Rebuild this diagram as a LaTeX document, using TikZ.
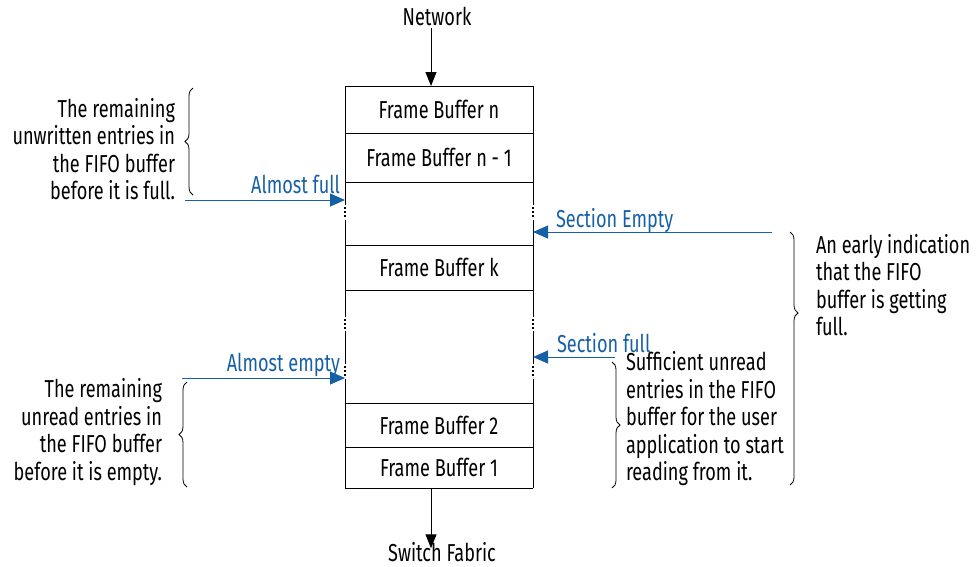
\documentclass[tikz,border=0pt]{standalone}
\usepackage{fontspec}
\setmainfont{Fira Sans}[FakeStretch=0.74]
\usetikzlibrary{arrows.meta,decorations.pathreplacing}
\definecolor{sigblue}{RGB}{22,96,166}
\begin{document}
\begin{tikzpicture}[x=1pt,y=-1pt,
  every node/.style={inner sep=0pt,outer sep=0pt,font=\fontsize{24.5}{27.5}\selectfont},
  row/.style={minimum width=188pt,anchor=north west},
  edge/.style={line width=1pt,black},
  dotmark/.style={fill=black,draw=none},
  flow/.style={line width=1pt,-{Triangle[length=14pt,width=11pt]}},
  sig/.style={line width=1pt,sigblue,-{Triangle[length=15pt,width=13pt]}},
  siglabel/.style={text=sigblue},
  brc/.style={decorate,decoration={brace,amplitude=8pt},line width=0.8pt},
  note/.style={align=left,anchor=west},
  rnote/.style={align=right,anchor=east}]
\useasboundingbox (0,0) rectangle (976,566);
% rows of the FIFO
\node[row,minimum height=47pt] (fbn) at (345,86) {Frame Buffer n};
\node[row,minimum height=49pt] (fbn1) at (345,133) {Frame Buffer n - 1};
\node[row,minimum height=63pt] (gap1) at (345,182) {};
\node[row,minimum height=45pt] (fbk) at (345,245) {Frame Buffer k};
\node[row,minimum height=113pt] (gap2) at (345,290) {};
\node[row,minimum height=44pt] (fb2) at (345,403) {Frame Buffer 2};
\node[row,minimum height=41pt] (fb1) at (345,447) {Frame Buffer 1};
% horizontal lines
\foreach \r in {fbn,fbn1,gap1,fbk,gap2,fb2,fb1}{
  \draw[edge] (\r.north west) -- (\r.north east);
}
\draw[edge] (fb1.south west) -- (fb1.south east);
% vertical sides with dotted breaks
\foreach \s in {west,east}{
  \draw[edge] (fbn.north \s) -- (fbn.north \s |- 0,205);
  \draw[edge] (fbn.north \s |- 0,220) -- (fbn.north \s |- 0,317);
  \draw[edge] (fbn.north \s |- 0,331) -- (fbn.north \s |- 0,364);
  \draw[edge] (fbn.north \s |- 0,379) -- (fb1.south \s);
  \foreach \y in {207,211,215,319,323,327,366,370,374}{
    \fill[dotmark] ([xshift=-1.1pt]fbn.north \s |- 0,\y) rectangle ([xshift=1.1pt,yshift=-2.2pt]fbn.north \s |- 0,\y);
  }
}
% network / switch fabric
\node (net) at (437,16) {Network};
\node (sw) at (442,552) {Switch Fabric};
\coordinate (inpt) at (431,86);
\coordinate (outpt) at (431,488);
\draw[flow] (net.south -| inpt) ++(0,3) -- (inpt);
\draw[flow] (outpt) -- ([yshift=-6pt]sw.north -| outpt);
% blue signals
\coordinate (afL) at (185,200);
\coordinate (afR) at (345,200);
\draw[sig] (afL) -- (afR);
\node[siglabel,anchor=base east] (af) at (340,193) {Almost full};
\coordinate (aeL) at (182,378);
\coordinate (aeR) at (345,378);
\draw[sig] (aeL) -- (aeR);
\node[siglabel,anchor=base east] (ae) at (340,371) {Almost empty};
\coordinate (seR) at (772,232);
\coordinate (seL) at (533,232);
\draw[sig] (seR) -- (seL);
\node[siglabel,anchor=base west] (se) at (556,227) {Section Empty};
\coordinate (sfR) at (615,357);
\coordinate (sfL) at (533,357);
\draw[sig] (sfR) -- (sfL);
\node[siglabel,anchor=base west] (sf) at (557,352) {Section full};
% braces
\draw[brc] (193,195) -- (193,88);
\draw[brc] (187,487) -- (187,382);
\draw[brc,decoration={aspect=0.32}] (790,232) -- (790,485);
\draw[brc] (612,362) -- (612,488);
% notes
\node[rnote] (n1) at (175,149) {The remaining\\unwritten entries in\\the FIFO buffer\\before it is full.};
\node[rnote] (n2) at (162,432) {The remaining\\unread entries in\\the FIFO buffer\\before it is empty.};
\node[note] (n3) at (816,285) {An early indication\\that the FIFO\\buffer is getting\\full.};
\node[note] (n4) at (626,419) {Sufficient unread\\entries in the FIFO\\buffer for the user\\application to start\\reading from it.};
\end{tikzpicture}
\end{document}
